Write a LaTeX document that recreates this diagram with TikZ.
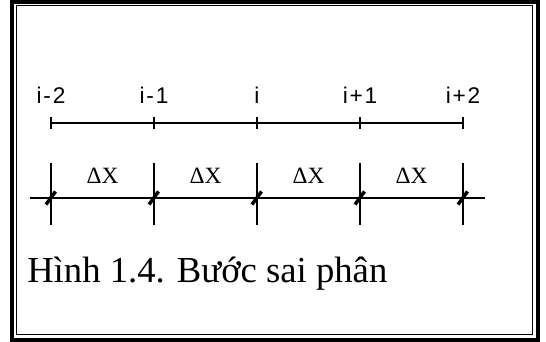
\documentclass[tikz,border=0pt]{standalone}
\usepackage{fontspec}
\setmainfont{Liberation Serif}
\newfontfamily\gridfont[LetterSpace=8]{Liberation Sans}
\usetikzlibrary{calc}

\tikzset{
    gridline/.style={line width=1.5pt, black},
    tickline/.style={line width=1.5pt, black},
    slash/.style={line width=2.6pt, black},
    gridlabel/.style={anchor=base, inner sep=0pt, font=\gridfont\fontsize{17}{20}\selectfont},
    steplabel/.style={inner sep=0pt, font=\fontsize{17.5}{20}\selectfont},
}

\begin{document}
\begin{tikzpicture}[x=0.75pt, y=-0.75pt]
    \useasboundingbox (0,0) rectangle (546,342);

    % ==========================================
    % MACRO: grid points of both rows
    % ==========================================
    \def\setcoords{
        \coordinate (TopA) at (51,123);
        \coordinate (TopB) at (154,123);
        \coordinate (TopC) at (257,123);
        \coordinate (TopD) at (360,123);
        \coordinate (TopE) at (463,123);
        \coordinate (LowA) at (51,198);
        \coordinate (LowB) at (154,198);
        \coordinate (LowC) at (257,198);
        \coordinate (LowD) at (360,198);
        \coordinate (LowE) at (463,198);
        \coordinate (LowL) at (30,198);
        \coordinate (LowR) at (485,198);
    }
    \setcoords

    % Double frame
    \draw[line width=3pt] (12,2) rectangle (538,340);
    \draw[line width=1.1pt] (16.5,5.5) rectangle (532.5,334.5);

    % ==========================================
    % ROW 1: node indices
    % ==========================================
    \draw[gridline] (TopA) -- (TopE);
    \draw[tickline] ([yshift=-4.5pt]TopA) -- ([yshift=4.5pt]TopA);
    \draw[tickline] ([yshift=-4.5pt]TopB) -- ([yshift=4.5pt]TopB);
    \draw[tickline] ([yshift=-4.5pt]TopC) -- ([yshift=4.5pt]TopC);
    \draw[tickline] ([yshift=-4.5pt]TopD) -- ([yshift=4.5pt]TopD);
    \draw[tickline] ([yshift=-4.5pt]TopE) -- ([yshift=4.5pt]TopE);

    \node[gridlabel] (labA) at ([yshift=14.5pt]TopA) {i-2};
    \node[gridlabel] (labB) at ([yshift=14.5pt]TopB) {i-1};
    \node[gridlabel] (labC) at ([yshift=14.5pt]TopC) {i};
    \node[gridlabel] (labD) at ([yshift=14.5pt]TopD) {i+1};
    \node[gridlabel] (labE) at ([yshift=14.5pt]TopE) {i+2};

    % ==========================================
    % ROW 2: step size
    % ==========================================
    \draw[gridline] (LowL) -- (LowR);
    \draw[tickline] ([yshift=26pt]LowA) -- ([yshift=-20pt]LowA);
    \draw[tickline] ([yshift=26pt]LowB) -- ([yshift=-20pt]LowB);
    \draw[tickline] ([yshift=26pt]LowC) -- ([yshift=-20pt]LowC);
    \draw[tickline] ([yshift=26pt]LowD) -- ([yshift=-20pt]LowD);
    \draw[tickline] ([yshift=26pt]LowE) -- ([yshift=-20pt]LowE);

    % Short slashes on every crossing
    \draw[slash] ([shift={(-5,6.5)}]LowA) -- ([shift={(4.5,-6.5)}]LowA);
    \draw[slash] ([shift={(-5,6.5)}]LowB) -- ([shift={(4.5,-6.5)}]LowB);
    \draw[slash] ([shift={(-5,6.5)}]LowC) -- ([shift={(4.5,-6.5)}]LowC);
    \draw[slash] ([shift={(-5,6.5)}]LowD) -- ([shift={(4.5,-6.5)}]LowD);
    \draw[slash] ([shift={(-5,6.5)}]LowE) -- ([shift={(4.5,-6.5)}]LowE);

    \node[steplabel] (stepA) at ($(LowA)!0.5!(LowB)+(0,-22)$) {ΔX};
    \node[steplabel] (stepB) at ($(LowB)!0.5!(LowC)+(0,-22)$) {ΔX};
    \node[steplabel] (stepC) at ($(LowC)!0.5!(LowD)+(0,-22)$) {ΔX};
    \node[steplabel] (stepD) at ($(LowD)!0.5!(LowE)+(0,-22)$) {ΔX};

    % Caption
    \node[anchor=base west, inner sep=0pt, font=\fontsize{27.5}{30}\selectfont]
        (caption) at (27,282) {Hình 1.4. Bước sai phân};

\end{tikzpicture}
\end{document}
